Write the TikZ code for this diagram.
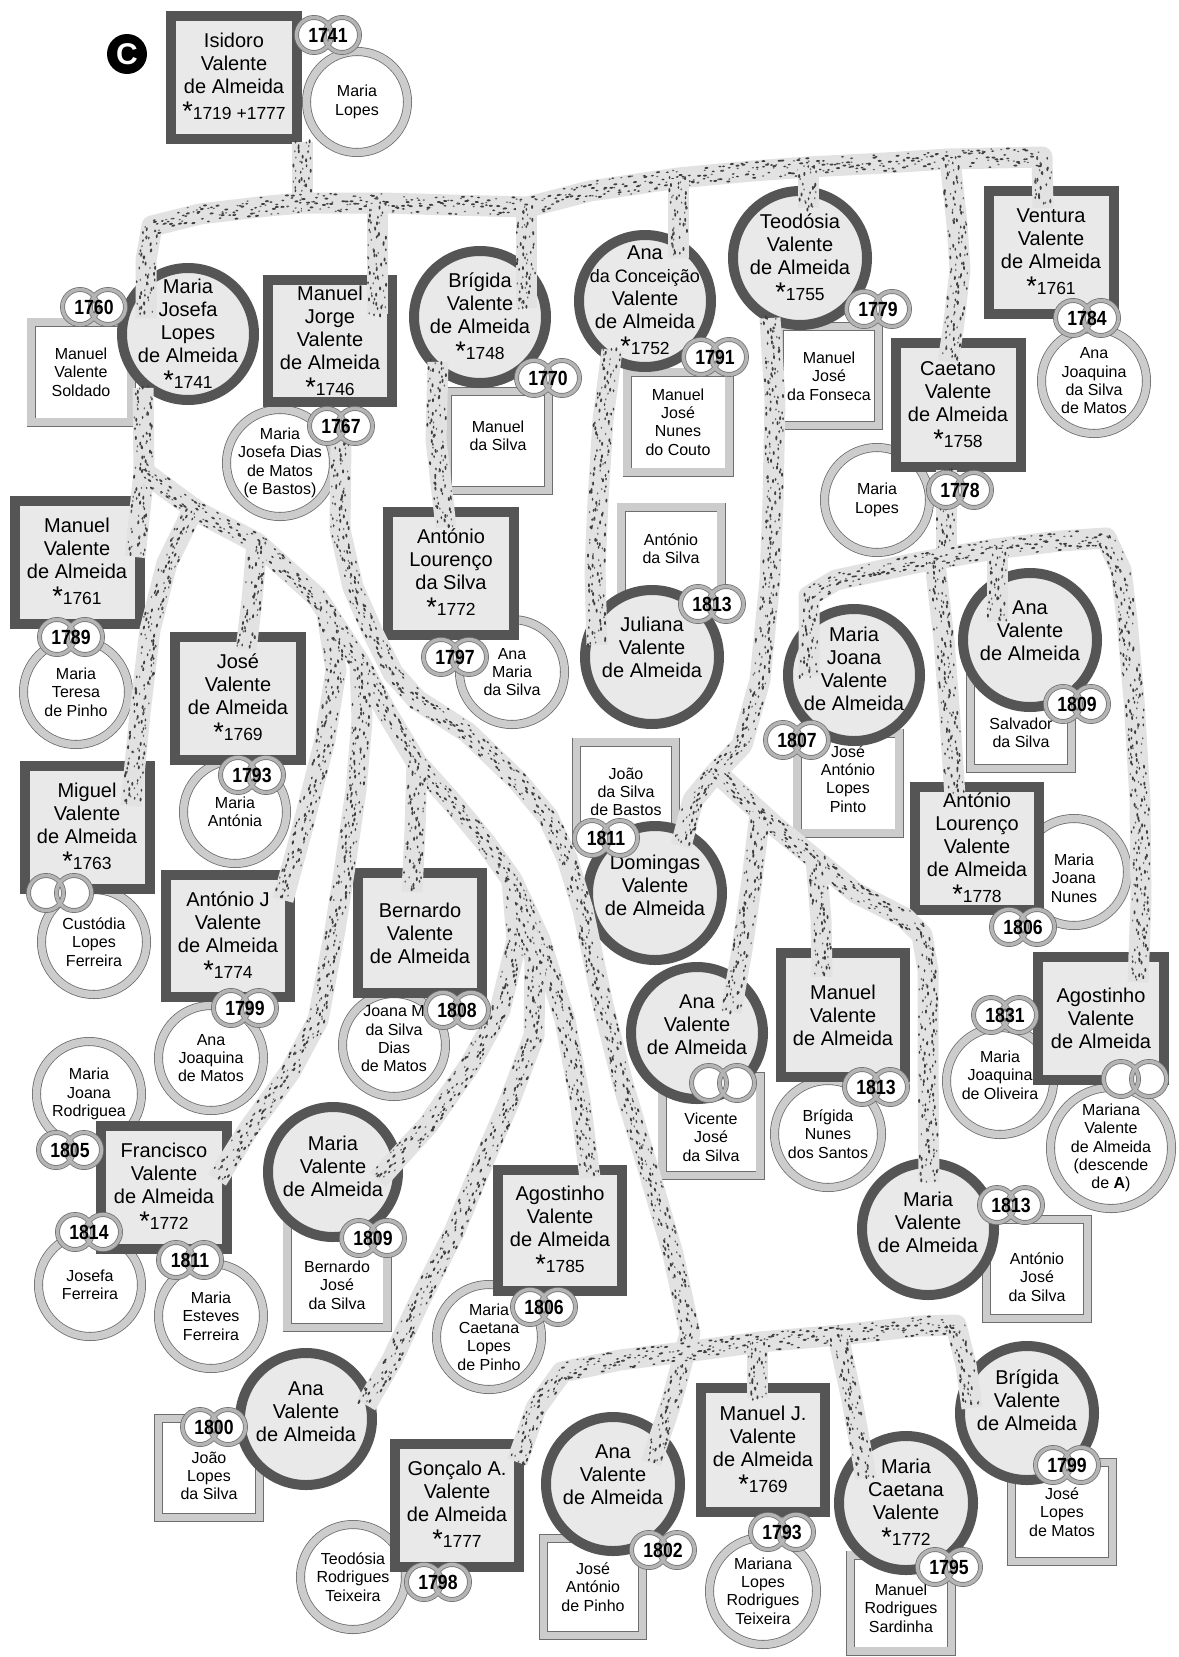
\documentclass[tikz,border=0pt]{standalone}
\usepackage{fontspec}
\setmainfont{Liberation Sans}
\newfontfamily\yearfont[FakeStretch=0.86]{Liberation Sans}
\usetikzlibrary{decorations.markings}

\definecolor{mainborder}{RGB}{85,85,85}
\definecolor{mainfill}{RGB}{233,233,233}
\definecolor{spline}{RGB}{110,110,110}
\definecolor{spband}{RGB}{204,204,204}
\definecolor{ringband}{RGB}{180,180,180}
\definecolor{bandbase}{RGB}{226,226,226}
\definecolor{bandspeck}{RGB}{62,62,62}

% small global pseudo-random generator for the flecks
\newcount\spseed
\global\spseed=4321
\makeatletter
\newcommand\nextspeck{%
  \global\multiply\spseed by 1103\relax
  \global\advance\spseed by 12345\relax
  \count@=\spseed \divide\count@ by 32749\relax \multiply\count@ by 32749\relax
  \global\advance\spseed by -\count@\relax}
\newcommand\spy[1]{\nextspeck\dimen@=\numexpr\spseed-16374\relax sp\relax
  \dimen@=37.236\dimen@\edef#1{\strip@pt\dimen@}}
\newcommand\spx[1]{\nextspeck\dimen@=\numexpr\spseed-16374\relax sp\relax
  \dimen@=8.005\dimen@\edef#1{\strip@pt\dimen@}}
\makeatother

% dark flecks scattered along a lineage band
\newcommand\dospeck{%
  \spy\ya\spy\yb\spy\yc\spx\xa\spx\xb\spx\xc
  \fill[bandspeck] (\xa pt,\ya pt) ellipse [x radius=2.0pt, y radius=1.0pt];%
  \fill[bandspeck] (\xb pt,\yb pt) ellipse [x radius=1.6pt, y radius=0.9pt];%
  \fill[bandspeck!80] (\xc pt,\yc pt) ellipse [x radius=1.2pt, y radius=0.8pt];%
}

\tikzset{
  every node/.style={inner sep=0pt, outer sep=0pt},
  msq/.style={rectangle, draw=mainborder, line width=10pt, fill=mainfill},
  mci/.style={circle, draw=mainborder, line width=10pt, fill=mainfill},
  ssq/.style={rectangle, draw=spline, line width=0.8pt, double=spband, double distance=7.4pt, fill=white},
  sci/.style={circle, draw=spline, line width=0.8pt, double=spband, double distance=7.4pt, fill=white},
  nm/.style={align=center, font=\fontsize{20}{23}\selectfont},
  sp/.style={align=center, font=\fontsize{16}{18.3}\selectfont},
  yr/.style={font=\yearfont\bfseries\fontsize{20.5}{20.5}\selectfont},
  ringline/.style={draw=spline, line width=0.75pt, double=ringband, double distance=3.4pt},
  band/.style={draw=bandbase, line width=21pt, line cap=butt, line join=round,
    postaction={decorate, decoration={markings,
      mark=between positions 0 and 1 step 5pt with {\dospeck}}}},
}

% person of the family: square (man) or circle (woman)
\newcommand\persq[5]{\node[msq, minimum width=#4pt-10pt, minimum height=#5pt-10pt] (#1) at (#2,#3) {};}
\newcommand\perci[4]{\node[mci, minimum size=2*#4pt-10pt] (#1) at (#2,#3) {};}
% spouse: optional vertical text shift, name, x, y, size, text
\newcommand\spousesq[7][0]{%
  \node[ssq, minimum width=#5pt-9pt, minimum height=#6pt-9pt] (#2) at (#3,#4) {};
  \node[sp] (#2-t) at ([yshift=#1pt]#2) {#7};}
\newcommand\spouseci[6][0]{%
  \node[sci, minimum size=2*#5pt-9pt] (#2) at (#3,#4) {};
  \node[sp] (#2-t) at ([yshift=#1pt]#2) {#6};}
% pair of wedding rings with the year
\newcommand\wedring[4]{%
  \coordinate (#1) at (#2,#3);
  \fill[white] ([xshift=-14pt]#1) circle [radius=17.5pt] ([xshift=14pt]#1) circle [radius=17.5pt];
  \draw[ringline] ([xshift=-14pt]#1) circle [radius=17.5pt] ([xshift=14pt]#1) circle [radius=17.5pt];
  \node[yr] (#1-t) at (#1) {#4};}
\newcommand\bornyr[1]{{\fontsize{27}{23}\selectfont\raisebox{-1pt}{*}}{\fontsize{17.5}{23}\selectfont#1}}

\begin{document}
\begin{tikzpicture}[x=1pt,y=-1pt]
\useasboundingbox (0,0) rectangle (1178,1657);
\fill[white] (0,0) rectangle (1178,1657);

% ---------------- spouses ----------------
\spouseci{mlopes1}{357}{102}{55}{Maria\\Lopes}
\spousesq{soldado}{81}{372}{109}{109}{Manuel\\Valente\\Soldado}
\spouseci{mjdias}{280}{463}{58}{Maria\\Josefa Dias\\de Matos\\(e Bastos)}
\spousesq[5]{msilva}{498}{441}{110}{108}{Manuel\\da Silva}
\spousesq{nunes}{678}{422}{111}{109}{Manuel\\José\\Nunes\\do Couto}
\spousesq{fonseca}{829}{376}{108}{108}{Manuel\\José\\da Fonseca}
\spouseci{ajsm}{1094}{381}{57}{Ana\\Joaquina\\da Silva\\de Matos}
\spouseci{mlopes2}{877}{500}{57}{Maria\\Lopes}
\spouseci{mtpinho}{76}{692}{57}{Maria\\Teresa\\de Pinho}
\spouseci{mantonia}{235}{812}{56}{Maria\\Antónia}
\spouseci{custodia}{94}{942}{57}{Custódia\\Lopes\\Ferreira}
\spouseci{ajmatos}{211}{1058}{57}{Ana\\Joaquina\\de Matos}
\spouseci[6]{joanam}{394}{1045}{56}{Joana M\\da Silva\\Dias\\de Matos}
\spouseci{mjrod}{89}{1094}{57}{Maria\\Joana\\Rodriguea}
\spouseci{jferreira}{90}{1285}{56}{Josefa\\Ferreira}
\spouseci{meferreira}{211}{1316}{57}{Maria\\Esteves\\Ferreira}
\spousesq[-9]{bjsilva}{337}{1276}{109}{112}{Bernardo\\José\\da Silva}
\spouseci{mclpinho}{489}{1337}{57}{Maria\\Caetana\\Lopes\\de Pinho}
\spousesq[-8]{jlsilva}{209}{1468}{110}{108}{João\\Lopes\\da Silva}
\spouseci{amsilva}{512}{672}{57}{Ana\\Maria\\da Silva}
\spousesq[7]{asilva}{671}{556}{109}{107}{António\\da Silva}
\spousesq{jsbastos}{626}{792}{108}{109}{João\\da Silva\\de Bastos}
\spousesq[-11]{vjsilva}{711}{1126}{107}{108}{Vicente\\José\\da Silva}
\spouseci{bnsantos}{828}{1134}{58}{Brígida\\Nunes\\dos Santos}
\spousesq[-8]{ajsilva}{1037}{1269}{110}{108}{António\\José\\da Silva}
\spousesq[4]{jalpinto}{848}{783}{111}{109}{José\\António\\Lopes\\Pinto}
\spousesq[-13]{ssilva}{1021}{720}{110}{106}{Salvador\\da Silva}
\spouseci[-6]{mjnunes}{1074}{872}{58}{Maria\\Joana\\Nunes}
\spouseci[6]{mjoliveira}{1000}{1081}{58}{Maria\\Joaquina\\de Oliveira}
\spouseci{mariana}{1111}{1148}{65}{Mariana\\Valente\\de Almeida\\(descende\\de \textbf{A})}
\spouseci{trteixeira}{353}{1577}{57}{Teodósia\\Rodrigues\\Teixeira}
\spousesq{japinho}{593}{1587}{108}{106}{José\\António\\de Pinho}
\spouseci{mlrteixeira}{763}{1591}{58}{Mariana\\Lopes\\Rodrigues\\Teixeira}
\spousesq[-5]{mrsardinha}{901}{1603}{110}{105}{Manuel\\Rodrigues\\Sardinha}
\spousesq{jlmatos}{1062}{1512}{110}{108}{José\\Lopes\\de Matos}

% ---------------- family members ----------------
\persq{isidoro}{234}{77}{136}{133}
\perci{mjosefa}{188}{334}{71}
\persq{mjorge}{330}{341}{134}{132}
\perci{brigida}{480}{317}{71}
\perci{anac}{645}{301}{71}
\perci{teodosia}{800}{258}{72}
\persq{ventura}{1051}{252}{135}{133}
\persq{caetano}{958}{405}{135}{134}
\persq{manuelv}{77}{562}{135}{133}
\persq{jose}{238}{698}{136}{133}
\persq{miguel}{87}{827}{135}{133}
\persq{antonioj}{228}{936}{134}{132}
\persq{bernardo}{420}{933}{134}{130}
\persq{francisco}{164}{1187}{136}{133}
\perci{mariav}{333}{1172}{70}
\persq{agostinho}{560}{1230}{134}{131}
\perci{anavl}{306}{1419}{71}
\persq{antoniol}{451}{573}{136}{133}
\perci{juliana}{652}{657}{72}
\perci{domingas}{655}{893}{72}
\perci{anavt}{697}{1033}{71}
\persq{manuelt}{843}{1015}{134}{134}
\perci{mariat}{928}{1229}{71}
\perci{mjoana}{854}{675}{71}
\perci{anavc}{1030}{640}{72}
\persq{antoniolv}{977}{848}{134}{133}
\persq{agostinhoc}{1101}{1018}{136}{133}
\persq{goncalo}{457}{1505}{134}{133}
\perci{anavb}{613}{1484}{72}
\persq{manuelj}{763}{1450}{134}{134}
\perci{mcaetana}{906}{1503}{72}
\perci{brigidab}{1027}{1413}{72}

% ---------------- lineage bands ----------------
\coordinate (jtop) at (302,203);
\coordinate (jmj) at (144,472);
\coordinate (jteo) at (716,772);
\coordinate (jcae) at (946,556);
\coordinate (jfan) at (512,880);

% children of Isidoro
\draw[band] (302,142) -- (jtop);
\draw[band] (jtop) -- (268,206) -- (200,214) -- (152,226) -- (146,260) -- (146,318);
\draw[band] (jtop) -- (383,203) -- (450,205) -- (528,207) -- (590,191) -- (678,178) -- (752,171)
  -- (808,167) -- (885,163) -- (948,159) -- (1042,157) -- (1043,208);
\draw[band] (377,204) -- (377,314);
\draw[band] (526,208) -- (526,308);
\draw[band] (678,179) -- (678,258);
\draw[band] (808,168) -- (808,208);
\draw[band] (950,159) -- (957,225) -- (960,270) -- (953,330) -- (948,362);

% Brígida and Ana da Conceição
\draw[band] (438,362) -- (436,440) -- (446,527);
\draw[band] (612,350) -- (603,420) -- (598,500) -- (595,570) -- (597,645);

% Teodósia
\draw[band] (770,318) -- (775,400) -- (773,500) -- (770,580) -- (760,680) -- (742,745) -- (jteo);
\draw[band] (jteo) -- (693,800) -- (681,846);
\draw[band] (jteo) -- (775,826) -- (856,893) -- (905,918) -- (922,935) -- (928,970) -- (928,1060) -- (929,1182);
\draw[band] (760,813) -- (752,880) -- (742,950) -- (731,1012);
\draw[band] (816,859) -- (821,920) -- (822,977);

% Caetano
\draw[band] (946,470) -- (jcae);
\draw[band] (809,676) -- (809,596) -- (836,580) -- (915,563) -- (994,549) -- (1060,541) -- (1106,538)
  -- (1121,570) -- (1127,620) -- (1134,700) -- (1140,800) -- (1141,900) -- (1138,982);
\draw[band] (997,549) -- (997,622);
\draw[band] (935,563) -- (944,640) -- (950,720) -- (955,797);

% Maria Josefa
\draw[band] (143,388) -- (jmj) -- (135,557);
\draw[band] (jmj) -- (200,513) -- (257,543) -- (317,597) -- (360,663) -- (387,713) -- (417,763)
  -- (452,802) -- (485,842) -- (jfan) -- (540,940) -- (565,1020) -- (580,1100) -- (590,1178);
\draw[band] (192,512) -- (167,563) -- (150,630) -- (140,713) -- (131,806);
\draw[band] (257,543) -- (252,600) -- (246,650);
\draw[band] (326,608) -- (336,670) -- (325,740) -- (302,830) -- (283,900);
\draw[band] (360,663) -- (362,720) -- (356,790) -- (344,873) -- (335,930) -- (318,1020)
  -- (290,1072) -- (248,1130) -- (217,1180);
\draw[band] (417,763) -- (415,830) -- (412,892);
\draw[band] (jfan) -- (517,940) -- (500,1010) -- (470,1065) -- (428,1125) -- (378,1180);
\draw[band] (jfan) -- (535,960) -- (534,1036) -- (510,1100) -- (484,1160) -- (455,1230)
  -- (420,1300) -- (392,1360) -- (366,1405);

% Manuel Jorge
\draw[band] (341,440) -- (340,530) -- (353,587) -- (373,633) -- (393,673) -- (417,700)
  -- (467,732) -- (517,780) -- (548,817) -- (567,858) -- (583,910) -- (603,1005) -- (623,1084)
  -- (650,1175) -- (673,1254) -- (690,1333) -- (672,1400) -- (651,1463);
\draw[band] (517,1462) -- (536,1408) -- (562,1372) -- (620,1360) -- (700,1350) -- (760,1342)
  -- (840,1335) -- (920,1326) -- (956,1325) -- (966,1365) -- (972,1408);
\draw[band] (757,1343) -- (757,1398);
\draw[band] (838,1335) -- (852,1400) -- (866,1478);

% ---------------- names ----------------
\node[nm] (isidoro-t) at (isidoro) {Isidoro\\Valente\\de Almeida\\[3pt]\bornyr{1719 +1777}};
\node[nm] (mjosefa-t) at (mjosefa) {Maria\\Josefa\\Lopes\\de Almeida\\[3pt]\bornyr{1741}};
\node[nm] (mjorge-t) at (mjorge) {Manuel\\Jorge\\Valente\\de Almeida\\[3pt]\bornyr{1746}};
\node[nm] (brigida-t) at (brigida) {Brígida\\Valente\\de Almeida\\[3pt]\bornyr{1748}};
\node[nm] (anac-t) at (anac) {Ana\\{\fontsize{18}{20}\selectfont da Conceição}\\Valente\\de Almeida\\[3pt]\bornyr{1752}};
\node[nm] (teodosia-t) at (teodosia) {Teodósia\\Valente\\de Almeida\\[3pt]\bornyr{1755}};
\node[nm] (ventura-t) at (ventura) {Ventura\\Valente\\de Almeida\\[3pt]\bornyr{1761}};
\node[nm] (caetano-t) at (caetano) {Caetano\\Valente\\de Almeida\\[3pt]\bornyr{1758}};
\node[nm] (manuelv-t) at (manuelv) {Manuel\\Valente\\de Almeida\\[3pt]\bornyr{1761}};
\node[nm] (jose-t) at (jose) {José\\Valente\\de Almeida\\[3pt]\bornyr{1769}};
\node[nm] (miguel-t) at (miguel) {Miguel\\Valente\\de Almeida\\[3pt]\bornyr{1763}};
\node[nm] (antonioj-t) at (antonioj) {António J\\Valente\\de Almeida\\[3pt]\bornyr{1774}};
\node[nm] (bernardo-t) at (bernardo) {Bernardo\\Valente\\de Almeida};
\node[nm] (francisco-t) at (francisco) {Francisco\\Valente\\de Almeida\\[3pt]\bornyr{1772}};
\node[nm] (mariav-t) at ([yshift=6pt]mariav) {Maria\\Valente\\de Almeida};
\node[nm] (agostinho-t) at (agostinho) {Agostinho\\Valente\\de Almeida\\[3pt]\bornyr{1785}};
\node[nm] (anavl-t) at ([yshift=7pt]anavl) {Ana\\Valente\\de Almeida};
\node[nm] (antoniol-t) at (antoniol) {António\\Lourenço\\da Silva\\[3pt]\bornyr{1772}};
\node[nm] (juliana-t) at ([yshift=10pt]juliana) {Juliana\\Valente\\de Almeida};
\node[nm] (domingas-t) at ([yshift=8pt]domingas) {Domingas\\Valente\\de Almeida};
\node[nm] (anavt-t) at ([yshift=8pt]anavt) {Ana\\Valente\\de Almeida};
\node[nm] (manuelt-t) at (manuelt) {Manuel\\Valente\\de Almeida};
\node[nm] (mariat-t) at ([yshift=7pt]mariat) {Maria\\Valente\\de Almeida};
\node[nm] (mjoana-t) at ([yshift=6pt]mjoana) {Maria\\Joana\\Valente\\de Almeida};
\node[nm] (anavc-t) at ([yshift=9pt]anavc) {Ana\\Valente\\de Almeida};
\node[nm] (antoniolv-t) at (antoniolv) {António\\Lourenço\\Valente\\de Almeida\\[3pt]\bornyr{1778}};
\node[nm] (agostinhoc-t) at (agostinhoc) {Agostinho\\Valente\\de Almeida};
\node[nm] (goncalo-t) at (goncalo) {Gonçalo A.\\Valente\\de Almeida\\[3pt]\bornyr{1777}};
\node[nm] (anavb-t) at ([yshift=9pt]anavb) {Ana\\Valente\\de Almeida};
\node[nm] (manuelj-t) at (manuelj) {Manuel J.\\Valente\\de Almeida\\[3pt]\bornyr{1769}};
\node[nm] (mcaetana-t) at (mcaetana) {Maria\\Caetana\\Valente\\[3pt]\bornyr{1772}};
\node[nm] (brigidab-t) at ([yshift=13pt]brigidab) {Brígida\\Valente\\de Almeida};

% ---------------- marriages ----------------
\wedring{r1741}{328}{35}{1741}
\wedring{r1760}{94}{307}{1760}
\wedring{r1767}{341}{426}{1767}
\wedring{r1770}{548}{378}{1770}
\wedring{r1791}{715}{357}{1791}
\wedring{r1779}{878}{309}{1779}
\wedring{r1784}{1087}{318}{1784}
\wedring{r1778}{960}{490}{1778}
\wedring{r1789}{71}{637}{1789}
\wedring{r1793a}{252}{775}{1793}
\wedring{r1797}{455}{657}{1797}
\wedring{r1813a}{712}{604}{1813}
\wedring{rmiguel}{60}{893}{}
\wedring{r1799a}{245}{1008}{1799}
\wedring{r1808}{457}{1010}{1808}
\wedring{r1805}{70}{1150}{1805}
\wedring{r1814}{89}{1232}{1814}
\wedring{r1811a}{190}{1260}{1811}
\wedring{r1809a}{373}{1238}{1809}
\wedring{r1806a}{544}{1307}{1806}
\wedring{r1800}{214}{1427}{1800}
\wedring{r1807}{797}{740}{1807}
\wedring{r1809b}{1077}{704}{1809}
\wedring{r1806b}{1023}{927}{1806}
\wedring{r1811b}{606}{838}{1811}
\wedring{ranavt}{723}{1083}{}
\wedring{r1813b}{876}{1087}{1813}
\wedring{r1813c}{1011}{1205}{1813}
\wedring{r1831}{1005}{1015}{1831}
\wedring{rmariana}{1135}{1079}{}
\wedring{r1798}{438}{1582}{1798}
\wedring{r1802}{663}{1550}{1802}
\wedring{r1793b}{782}{1532}{1793}
\wedring{r1795}{949}{1567}{1795}
\wedring{r1799b}{1067}{1465}{1799}

% family letter
\node[circle, fill=black, minimum size=40pt, text=white,
  font=\bfseries\fontsize{30}{30}\selectfont] (badge) at (127,54) {C};
\end{tikzpicture}
\end{document}
